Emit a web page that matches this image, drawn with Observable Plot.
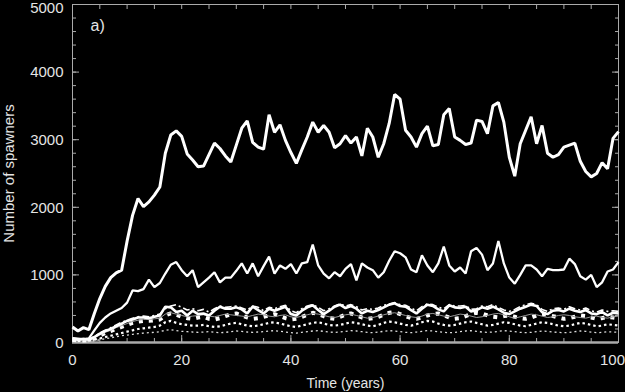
<!DOCTYPE html>
<html><head><meta charset="utf-8">
<script src="https://cdn.jsdelivr.net/npm/d3@7"></script>
<script src="https://cdn.jsdelivr.net/npm/@observablehq/plot@0.6"></script>
<style>html,body{margin:0;padding:0;background:#000;overflow:hidden;}</style>
</head><body><div id="chart"></div>
<script>
const years = d3.range(0, 101);
const yMajor = [0, 1000, 2000, 3000, 4000, 5000];
const yMinor = d3.range(0, 5001, 200);
const xMajor = [0, 20, 40, 60, 80, 100];
const xMinor = d3.range(0, 101, 5);
const xTitle = "Time (years)";
const yTitle = "Number of spawners";
const panel = "a)";

const top1 = [230,170,220,190,430,650,830,960,1030,1070,
1500,1880,2130,2010,2080,2180,2300,2800,3070,3130,
3050,2790,2700,2600,2610,2780,2950,2870,2760,2670,
2920,3170,3280,2960,2890,2860,3370,3110,3220,2990,
2810,2650,2850,3040,3260,3110,3210,3110,2880,2940,
3060,2950,3040,2760,3170,3040,2740,2940,3240,3670,
3600,3140,3040,2890,3090,3200,2910,2930,3370,3460,
3040,2990,2930,2950,3290,3270,3090,3500,3550,3260,
2740,2460,2940,3140,3340,2940,3210,2800,2740,2780,
2890,2920,2950,2680,2530,2450,2500,2660,2570,3020,
3120];
const mid = [50,40,50,60,180,290,370,430,470,510,
590,770,760,790,930,820,880,1020,1150,1190,
1070,980,1070,820,890,960,1040,890,960,960,
1060,1170,1020,1170,980,1130,1270,1020,1140,1090,
1160,1020,1170,1190,1450,1140,1020,950,1040,980,
1090,1160,920,1170,1110,1070,960,1040,1210,1350,
1320,1260,1080,1040,1290,1140,1040,1170,1420,1140,
1050,1110,1020,1350,1400,1300,1070,1170,1500,1170,
960,870,1000,1140,1140,1080,980,1090,1070,1070,
1080,1240,1160,980,930,1000,820,890,1050,1080,
1190];
const lowThick = [60,50,50,40,80,130,170,200,240,280,
320,340,370,370,360,380,400,530,520,450,
470,400,470,420,430,400,470,530,500,500,
520,490,430,530,480,430,500,470,500,530,
420,400,470,520,550,480,420,470,530,560,
510,540,500,430,470,450,480,520,560,580,
540,530,480,430,500,560,540,490,460,550,
520,510,530,460,480,520,500,530,490,440,
420,460,500,530,560,540,450,420,470,480,
460,500,470,450,480,430,420,450,400,440,
430];
const lowDashed = [70,60,60,50,90,140,180,220,260,300,
330,360,380,390,380,400,420,500,540,560,
520,480,500,470,490,450,500,540,520,530,
540,510,480,540,520,470,520,500,530,550,
470,440,500,540,560,520,470,500,540,570,
540,560,530,480,500,490,510,550,570,590,
560,550,510,470,530,570,560,520,500,560,
540,540,550,490,500,540,530,560,520,480,
460,490,530,560,580,560,490,460,500,510,
490,530,500,480,510,470,450,480,460,470,
460];
const lowThin = [50,40,40,40,70,110,150,180,220,250,
280,310,330,340,340,350,360,420,440,420,
400,380,390,400,410,390,380,400,420,410,
400,390,380,400,420,410,390,380,400,410,
380,370,390,410,430,420,400,380,370,390,
410,420,400,380,360,370,390,410,430,440,
420,400,380,370,390,420,430,410,390,380,
400,420,410,390,370,380,400,420,430,410,
380,360,380,400,420,410,390,370,380,400,
410,400,380,370,360,380,390,370,360,380,
390];
const lowSquares = [40,30,30,30,60,100,140,170,200,230,
260,290,310,320,320,330,340,400,430,410,
380,360,350,370,380,350,340,360,390,420,
430,400,370,350,360,380,400,420,390,360,
340,350,380,410,440,420,390,360,350,380,
410,430,400,370,350,360,380,410,440,450,
420,390,360,350,370,400,420,430,400,370,
350,360,390,420,440,430,400,380,370,390,
400,380,360,350,370,400,420,410,390,370,
350,360,380,400,390,370,350,360,380,370,
360];
const lowDotted = [30,25,25,25,40,60,80,100,120,140,
160,180,200,210,220,230,250,300,320,290,
270,260,250,250,260,240,230,240,260,280,
290,270,250,240,250,270,290,300,280,260,
240,230,250,270,290,300,280,260,250,260,
280,300,290,270,250,240,260,290,310,300,
280,260,250,270,300,320,310,280,260,250,
260,280,300,310,290,270,250,260,280,300,
290,270,250,240,260,280,300,290,270,250,
240,250,270,290,280,260,240,250,270,260,
250];
const lowFine = [20,15,15,15,25,40,55,70,85,100,
110,120,130,140,145,150,160,180,190,175,
165,160,155,150,155,160,150,145,150,160,
170,165,155,150,155,160,170,175,165,155,
145,140,150,160,170,175,165,155,150,155,
165,175,170,160,150,145,155,165,175,170,
160,150,145,155,165,175,170,160,150,145,
150,160,170,175,165,155,150,155,165,175,
170,160,150,145,150,160,170,165,155,150,
145,150,160,170,165,155,145,150,160,155,
150];

const table = arr => years.map((t, i) => ({t, v: arr[i]}));
const lineOpts = {x: "t", y: "v", strokeLinejoin: "miter", strokeLinecap: "butt"};
const axisColor = "#aaa";
const textColor = "#e4e4e4";
const font = "'Liberation Sans', Arial, sans-serif";
const xInner = xMajor.slice(0, -1);
const xLast = xMajor.slice(-1);
const yInner = yMajor.slice(0, -1);
const yLast = yMajor.slice(-1);

const chart = Plot.plot({
  width: 625, height: 392,
  marginLeft: 72, marginRight: 7, marginTop: 4, marginBottom: 50,
  style: {background: "#000", color: textColor, fontFamily: font, fontSize: "14px"},
  x: {domain: [0, 100]},
  y: {domain: [0, 5000]},
  marks: [
    Plot.frame({stroke: axisColor}),
    Plot.axisY({anchor: "left", ticks: yMinor, tickSize: -4, fill: "none", stroke: axisColor}),
    Plot.axisY({anchor: "left", ticks: yMajor, tickSize: -7, fill: "none", stroke: axisColor}),
    Plot.axisY({anchor: "right", ticks: yMinor, tickSize: -4, fill: "none", stroke: axisColor}),
    Plot.axisY({anchor: "right", ticks: yMajor, tickSize: -7, fill: "none", stroke: axisColor}),
    Plot.axisX({anchor: "bottom", ticks: xMinor, tickSize: -4, fill: "none", stroke: axisColor}),
    Plot.axisX({anchor: "bottom", ticks: xMajor, tickSize: -7, fill: "none", stroke: axisColor}),
    Plot.axisX({anchor: "top", ticks: xMinor, tickSize: -4, fill: "none", stroke: axisColor}),
    Plot.axisY({anchor: "left", ticks: yInner, tickFormat: d3.format("d"), tickSize: 0, tickPadding: 9, label: null, fill: textColor, fontSize: 15, dy: 0.5}),
    Plot.axisY({anchor: "left", ticks: yLast, tickFormat: d3.format("d"), tickSize: 0, tickPadding: 9, label: null, fill: textColor, fontSize: 15, dy: 4}),
    Plot.axisX({anchor: "bottom", ticks: xInner, tickFormat: d3.format("d"), tickSize: 0, tickPadding: 12, label: null, fill: textColor, fontSize: 15}),
    Plot.axisX({anchor: "bottom", ticks: xLast, tickFormat: d3.format("d"), tickSize: 0, tickPadding: 12, label: null, fill: textColor, fontSize: 15, dx: -6}),
    Plot.ruleY([0], {stroke: axisColor, strokeWidth: 2.5}),
    Plot.line(table(lowFine), {...lineOpts, stroke: "#ddd", strokeWidth: 1.3, strokeDasharray: "2,3"}),
    Plot.line(table(lowDotted), {...lineOpts, stroke: "#fff", strokeWidth: 2.2, strokeDasharray: "2.5,3"}),
    Plot.line(table(lowSquares), {...lineOpts, stroke: "#fff", strokeWidth: 4, strokeDasharray: "4,6"}),
    Plot.line(table(lowThin), {...lineOpts, stroke: "#999", strokeWidth: 1}),
    Plot.line(table(lowDashed), {...lineOpts, stroke: "#fff", strokeWidth: 1.6, strokeDasharray: "7,3,2,3"}),
    Plot.line(table(lowThick), {...lineOpts, stroke: "#fff", strokeWidth: 2.6}),
    Plot.line(table(mid), {...lineOpts, stroke: "#fff", strokeWidth: 2.3}),
    Plot.line(table(top1), {...lineOpts, stroke: "#fff", strokeWidth: 3}),
    Plot.text([panel], {frameAnchor: "top-left", dx: 18, dy: 21, textAnchor: "start", lineAnchor: "middle", fontSize: 16, fill: textColor}),
    Plot.text([xTitle], {frameAnchor: "bottom", dy: 41, textAnchor: "middle", lineAnchor: "middle", fontSize: 14, fill: textColor}),
    Plot.text([yTitle], {frameAnchor: "left", dx: -63, dy: 0, rotate: -90, textAnchor: "middle", lineAnchor: "middle", fontSize: 15, fill: textColor})
  ]
});
document.getElementById("chart").appendChild(chart);
</script>
</body></html>
